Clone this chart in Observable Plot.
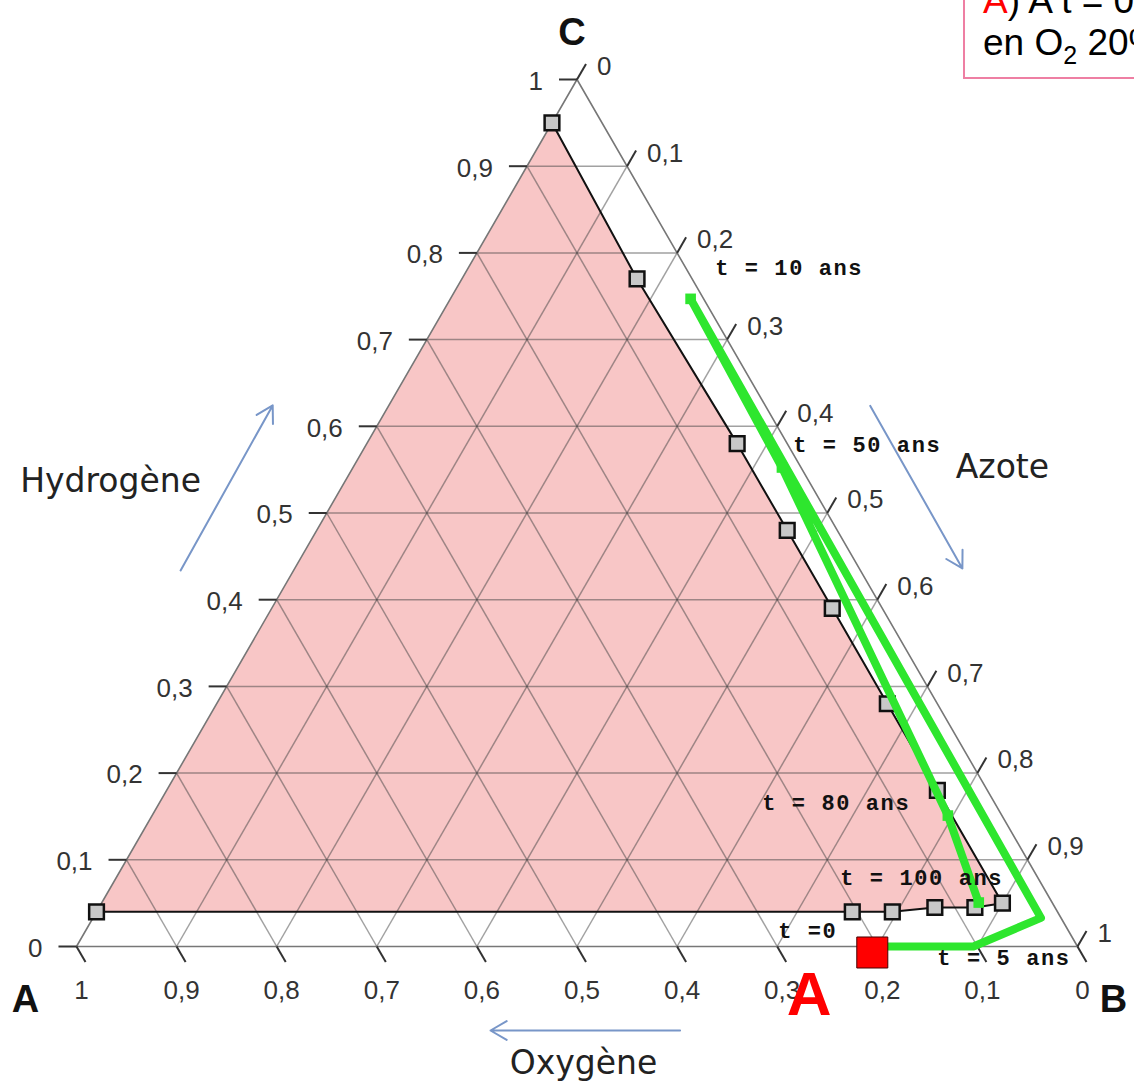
<!DOCTYPE html>
<html><head><meta charset="utf-8">
<script src="https://cdn.jsdelivr.net/npm/d3@7"></script>
<script src="https://cdn.jsdelivr.net/npm/@observablehq/plot@0.6"></script>
<style>
html,body{margin:0;padding:0;background:#fff;overflow:hidden;}
#wrap{position:relative;width:1134px;height:1088px;overflow:hidden;}
#note{position:absolute;left:963px;top:-22px;width:420px;height:101px;box-sizing:border-box;border:2px solid #ee7fa3;background:#fff;
 font-family:"Liberation Sans",Arial,sans-serif;font-size:37px;line-height:42px;padding-left:18px;color:#000;white-space:nowrap;}
#note sub{font-size:25px;vertical-align:-9px;line-height:0;}
</style></head><body>
<div id="wrap"><div id="chart"></div>
<div id="note"><span style="color:#ff0000">A</span>) A t = 0, teneur<br>en O<sub>2</sub> 20%</div></div>
<script>
// ---- data (ternary fractions: O = oxygène, H = hydrogène, N = azote) ----
const ticks = [0, 0.1, 0.2, 0.3, 0.4, 0.5, 0.6, 0.7, 0.8, 0.9, 1];
const tickLabels = ["0", "0,1", "0,2", "0,3", "0,4", "0,5", "0,6", "0,7", "0,8", "0,9", "1"];
const cornerNames = ["A", "B", "C"];
const axisTitles = ["Hydrogène", "Azote", "Oxygène"];

// limit of the pink domain (square markers)
const limitO = [0.96, 0.05, 0.055, 0.05, 0.05, 0.05, 0.05, 0.05, 0.05, 0.08, 0.12, 0.165, 0.205];
const limitH = [0.04, 0.95, 0.77, 0.58, 0.48, 0.39, 0.28, 0.18, 0.05, 0.045, 0.045, 0.04, 0.04];
const limitN = [0.00, 0.00, 0.175, 0.37, 0.47, 0.56, 0.67, 0.77, 0.90, 0.875, 0.835, 0.795, 0.755];

// trajectory of the composition (green)
const trajO = [0.205, 0.104, 0.02, 0.013, 0.019, 0.054, 0.073];
const trajH = [0.0, 0.0, 0.033, 0.747, 0.5525, 0.151, 0.0507];
const trajN = [0.795, 0.896, 0.947, 0.24, 0.4285, 0.795, 0.876];

// time annotations (plot units)
const timeTexts = ["t = 10 ans", "t = 50 ans", "t = 80 ans", "t = 100 ans", "t =0", "t = 5 ans"];
const timeX = [0.638, 0.716, 0.685, 0.763, 0.701, 0.860];
const timeY = [0.678, 0.5005, 0.143, 0.068, 0.016, -0.011];

// ---- geometry helpers ----
const S = Math.sqrt(3) / 2;
const tern = (O, H, N) => ({x: N + H / 2, y: H * S});
const L = 0.018;

const limitPts = limitO.map((o, i) => tern(o, limitH[i], limitN[i]));
const limitLine = [...limitPts.slice(1), limitPts[0]]; // right side + bottom
const traj = trajO.map((o, i) => tern(o, trajH[i], trajN[i]));
const trajMarks = traj.slice(3);
const startPt = [traj[0]];

const inner = ticks.filter(v => v > 0 && v < 1);
const grid = [];
for (const v of inner) {
  let a = tern(1 - v, v, 0), b = tern(0, v, 1 - v); grid.push({x1: a.x, y1: a.y, x2: b.x, y2: b.y});
  a = tern(v, 1 - v, 0); b = tern(v, 0, 1 - v); grid.push({x1: a.x, y1: a.y, x2: b.x, y2: b.y});
  a = tern(1 - v, 0, v); b = tern(0, 1 - v, v); grid.push({x1: a.x, y1: a.y, x2: b.x, y2: b.y});
}
const tri = [tern(1, 0, 0), tern(0, 0, 1), tern(0, 1, 0), tern(1, 0, 0)];

const leftTicks = ticks.map((v, i) => { const p = tern(1 - v, v, 0); return {x1: p.x, y1: p.y, x2: p.x - L, y2: p.y, label: tickLabels[i]}; });
const bottomTicks = ticks.map((v, i) => { const p = tern(v, 0, 1 - v); return {x1: p.x, y1: p.y, x2: p.x + L * 0.5, y2: p.y - L * S, label: tickLabels[i]}; });
const rightTicks = ticks.map((v, i) => { const p = tern(0, 1 - v, v); return {x1: p.x, y1: p.y, x2: p.x + L * 0.5, y2: p.y + L * S, label: tickLabels[i]}; });
const allTicks = [...leftTicks, ...bottomTicks, ...rightTicks];

const cA = tern(1, 0, 0), cB = tern(0, 0, 1), cC = tern(0, 1, 0);
const titles = [
  {x: 0.034, y: 0.4645, t: axisTitles[0]},
  {x: 0.925, y: 0.4785, t: axisTitles[1]},
  {x: 0.5065, y: -0.1169, t: axisTitles[2]}
];
const arrows = [
  {x1: 0.104, y1: 0.3756, x2: 0.196, y2: 0.5405},
  {x1: 0.793, y1: 0.540, x2: 0.885, y2: 0.3776},
  {x1: 0.603, y1: -0.0839, x2: 0.4136, y2: -0.0839}
];
const times = timeTexts.map((t, i) => ({t, x: timeX[i], y: timeY[i]}));

const green = "#2ee62e";
const cornerText = (p, name, dx, dy) =>
  Plot.text([{...p, name}], {x: "x", y: "y", text: "name", dx, dy, fontSize: 38, fontWeight: "bold", fill: "#111"});

const plot = Plot.plot({
  width: 1134, height: 1088,
  marginLeft: 76, marginRight: 57, marginTop: 79, marginBottom: 142,
  x: {domain: [0, 1], axis: null},
  y: {domain: [0, S], axis: null},
  style: {background: "white", fontFamily: "Liberation Sans, Arial, sans-serif", color: "#333"},
  marks: [
    Plot.line(limitPts, {x: "x", y: "y", fill: "#f8c6c6", stroke: "none"}),
    Plot.link(grid, {x1: "x1", y1: "y1", x2: "x2", y2: "y2", stroke: "#444", strokeOpacity: 0.5, strokeWidth: 1.5}),
    Plot.line(tri, {x: "x", y: "y", stroke: "#777", strokeWidth: 1.6}),
    Plot.link(allTicks, {x1: "x1", y1: "y1", x2: "x2", y2: "y2", stroke: "#333", strokeWidth: 2}),
    Plot.text(leftTicks, {x: "x1", y: "y1", text: "label", dx: -34, dy: 2, textAnchor: "end", fontSize: 26, fill: "#333"}),
    Plot.text(bottomTicks, {x: "x1", y: "y1", text: "label", dx: 5, dy: 44, textAnchor: "middle", fontSize: 26, fill: "#333"}),
    Plot.text(rightTicks, {x: "x1", y: "y1", text: "label", dx: 20, dy: -13, textAnchor: "start", fontSize: 26, fill: "#333"}),
    Plot.line(limitLine, {x: "x", y: "y", stroke: "#111", strokeWidth: 2}),
    Plot.dot(limitPts, {x: "x", y: "y", symbol: "square", r: 8.3, fill: "#c8c8c8", stroke: "#111", strokeWidth: 2.5}),
    Plot.line(traj, {x: "x", y: "y", stroke: green, strokeWidth: 8, strokeLinejoin: "round"}),
    Plot.dot(trajMarks, {x: "x", y: "y", symbol: "square", r: 6, fill: green}),
    Plot.dot(startPt, {x: "x", y: "y", symbol: "square", r: 17.5, fill: "#ff0000", stroke: "#400", strokeWidth: 1, dy: 6}),
    Plot.text(times, {x: "x", y: "y", text: "t", textAnchor: "start", fontSize: 22, fontWeight: "bold", fontFamily: "Liberation Mono, monospace", fill: "#111"}),
    cornerText(cA, cornerNames[0], -51, 53),
    cornerText(cB, cornerNames[1], 36, 53),
    cornerText(cC, cornerNames[2], -5, -47),
    Plot.text(titles, {x: "x", y: "y", text: "t", fontSize: 33, fontFamily: "DejaVu Sans, sans-serif", fill: "#222"}),
    Plot.arrow(arrows, {x1: "x1", y1: "y1", x2: "x2", y2: "y2", stroke: "#7896c8", strokeWidth: 2, headLength: 14}),
    Plot.text([{x: 0.732, y: -0.049, t: cornerNames[0]}], {x: "x", y: "y", text: "t", fontSize: 62, fontWeight: "bold", fill: "#ff0000"})
  ]
});
d3.select(plot).selectAll("text").each(function() {
  if (this.textContent.startsWith("t =")) this.setAttribute("letter-spacing", "1.6");
});
document.getElementById("chart").appendChild(plot);
</script></body></html>
